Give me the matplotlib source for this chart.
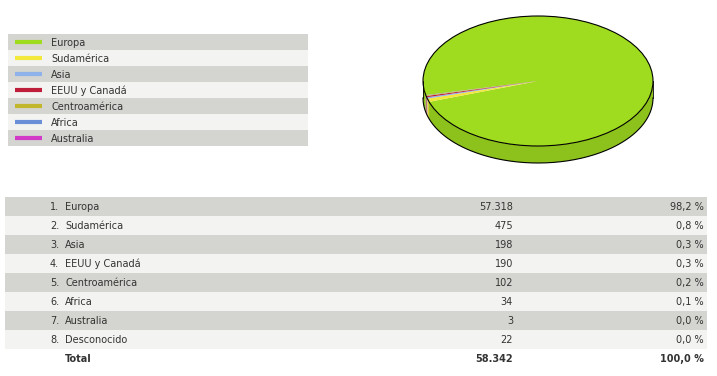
import numpy as np
import matplotlib
matplotlib.use("Agg")
import matplotlib.pyplot as plt
from matplotlib.patches import Rectangle, Polygon, Ellipse

# data
regions = ["Europa", "Sudamérica", "Asia", "EEUU y Canadá", "Centroamérica", "Africa", "Australia", "Desconocido"]
visits = [57318, 475, 198, 190, 102, 34, 3, 22]
pie_colors = ["#9fdb1f", "#f2e93c", "#90b2ea", "#be1e3a", "#c2b72c", "#6a8fd6", "#d23ac8"]
side_colors = ["#8cc21b", "#d6cd30", "#a8a0d8", "#a31a32", "#a9a026", "#8f88cc", "#b631ad"]

W, H = 717, 376
GRAY = "#d4d4d0"
LIGHT = "#f3f3f1"
TXT = "#333333"


def fmt_int(v):
    return f"{v:,}".replace(",", ".")


def fmt_pct(p):
    return f"{p:.1f} %".replace(".", ",")


fig = plt.figure(figsize=(W / 100, H / 100), dpi=100)
bg = fig.add_axes([0, 0, 1, 1])
bg.set_xlim(0, W)
bg.set_ylim(H, 0)
bg.axis("off")

# legend box
n_leg = len(pie_colors)
for i in range(n_leg):
    top = 34 + 16 * i
    bg.add_patch(Rectangle((8, top), 300, 16, color=GRAY if i % 2 == 0 else LIGHT, lw=0))
    bg.plot([15, 42], [top + 8, top + 8], color=pie_colors[i], lw=3, solid_capstyle="butt")
    bg.text(51, top + 8.5, regions[i], fontsize=7, color=TXT, va="center", ha="left")

# table
total = sum(visits)
for i, (name, v) in enumerate(zip(regions, visits)):
    top = 197 + 19 * i
    yc = top + 10
    bg.add_patch(Rectangle((5, top), 702, 19, color=GRAY if i % 2 == 0 else LIGHT, lw=0))
    bg.text(50, yc, f"{i + 1}.", fontsize=7, color=TXT, va="center", ha="left")
    bg.text(65, yc, name, fontsize=7, color=TXT, va="center", ha="left")
    bg.text(513, yc, fmt_int(v), fontsize=7, color=TXT, va="center", ha="right")
    bg.text(704, yc, fmt_pct(100 * v / total), fontsize=7, color=TXT, va="center", ha="right")

yt = 359
bg.text(65, yt, "Total", fontsize=7, color=TXT, va="center", ha="left", fontweight="bold")
bg.text(513, yt, fmt_int(total), fontsize=7, color=TXT, va="center", ha="right", fontweight="bold")
bg.text(704, yt, fmt_pct(100.0), fontsize=7, color=TXT, va="center", ha="right", fontweight="bold")

# pseudo 3d pie
cx, cy, rx, ry, depth = 538, 81, 115, 65, 17
top_px, bot_px = 6, 176
ax = fig.add_axes([(cx - 125) / W, 1 - bot_px / H, 250 / W, (bot_px - top_px) / H])
ax.patch.set_alpha(0)
d = depth / ry

wedges, _ = ax.pie(visits[:n_leg], colors=pie_colors, startangle=192.5, counterclock=False,
                   wedgeprops=dict(linewidth=0))
for w in wedges:
    w.set_zorder(3)

# side band, only visible for the front half (180..360 deg)
for w, sc in zip(wedges, side_colors):
    t1, t2 = w.theta1 % 360, w.theta2 % 360
    segs = [(t1, t2)] if t1 <= t2 else [(t1, 360), (0, t2)]
    for a, b in segs:
        a, b = max(a, 180), min(b, 360)
        if b <= a:
            continue
        t = np.radians(np.linspace(a, b, 80))
        xs, ys = np.cos(t), np.sin(t)
        pts = np.column_stack([np.r_[xs, xs[::-1]], np.r_[ys, ys[::-1] - d]])
        ax.add_patch(Polygon(pts, closed=True, facecolor=sc, edgecolor="none", zorder=2))

t = np.radians(np.linspace(180, 360, 200))
ax.plot(np.cos(t), np.sin(t) - d, color="black", lw=0.8, zorder=4)
ax.plot([-1, -1], [0, -d], color="black", lw=0.6, zorder=4)
ax.plot([1, 1], [0, -d], color="black", lw=0.6, zorder=4)
ax.add_patch(Ellipse((0, 0), 2, 2, fill=False, edgecolor="black", lw=0.8, zorder=4))

ax.set_aspect("auto")
ax.set_xlim(-125 / rx, 125 / rx)
ax.set_ylim(-(bot_px - cy) / ry, (cy - top_px) / ry)
ax.axis("off")

fig.savefig("out.png", dpi=100)
